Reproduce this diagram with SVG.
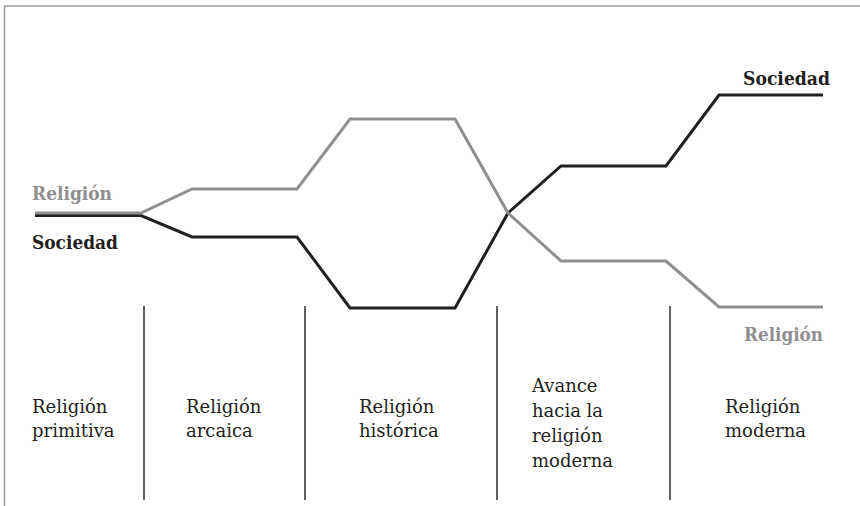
<svg xmlns="http://www.w3.org/2000/svg" width="860" height="506" viewBox="0 0 860 506">
<style>
.frame{fill:none;stroke:#9a9a9a;stroke-width:1.5}
.rel{fill:none;stroke:#8f8f8f;stroke-width:3}
.soc{fill:none;stroke:#231f20;stroke-width:3}
.div{stroke:#2a2a2a;stroke-width:1.5}
.lbl{font-family:"DejaVu Serif","Liberation Serif",serif;font-size:18px;fill:#231f20}
.bs{font-family:"DejaVu Serif","Liberation Serif",serif;font-size:19px;font-weight:bold;fill:#231f20}
.br{font-family:"DejaVu Serif","Liberation Serif",serif;font-size:19px;font-weight:bold;fill:#8f8f8f}
</style>
<rect width="860" height="506" fill="#ffffff"/>
<path class="frame" d="M4.5,506 V6 H860"/>
<g id="connectors">
<path id="sociedad-line" class="soc" d="M35,215.5 H141 L192,237 H297 L350,308 H455 L508,213 L561,166 H666 L719,95 H823"/>
<path id="religion-line" class="rel" d="M35,213 H141 L192,189 H297 L350,119 H455 L508,213 L561,261 H666 L719,307 H823"/>
</g>
<g id="dividers">
<line class="div" x1="144" y1="306" x2="144" y2="500"/>
<line class="div" x1="305" y1="306" x2="305" y2="500"/>
<line class="div" x1="497" y1="306" x2="497" y2="500"/>
<line class="div" x1="670" y1="306" x2="670" y2="500"/>
</g>
<g id="label-religion-left"><text class="br" x="32" y="200" textLength="80" lengthAdjust="spacingAndGlyphs">Religión</text></g>
<g id="label-sociedad-left"><text class="bs" x="32" y="249" textLength="86" lengthAdjust="spacingAndGlyphs">Sociedad</text></g>
<g id="label-sociedad-right"><text class="bs" x="743" y="85" textLength="87" lengthAdjust="spacingAndGlyphs">Sociedad</text></g>
<g id="label-religion-right"><text class="br" x="744" y="341" textLength="79" lengthAdjust="spacingAndGlyphs">Religión</text></g>
<g id="stage-primitiva"><text class="lbl" x="32" y="413">Religión<tspan x="32" y="437">primitiva</tspan></text></g>
<g id="stage-arcaica"><text class="lbl" x="186" y="413">Religión<tspan x="186" y="437">arcaica</tspan></text></g>
<g id="stage-historica"><text class="lbl" x="359" y="413">Religión<tspan x="359" y="437">histórica</tspan></text></g>
<g id="stage-avance"><text class="lbl" x="532" y="392">Avance<tspan x="532" y="417">hacia la</tspan><tspan x="532" y="442">religión</tspan><tspan x="532" y="467">moderna</tspan></text></g>
<g id="stage-moderna"><text class="lbl" x="725" y="413">Religión<tspan x="725" y="437">moderna</tspan></text></g>
</svg>
